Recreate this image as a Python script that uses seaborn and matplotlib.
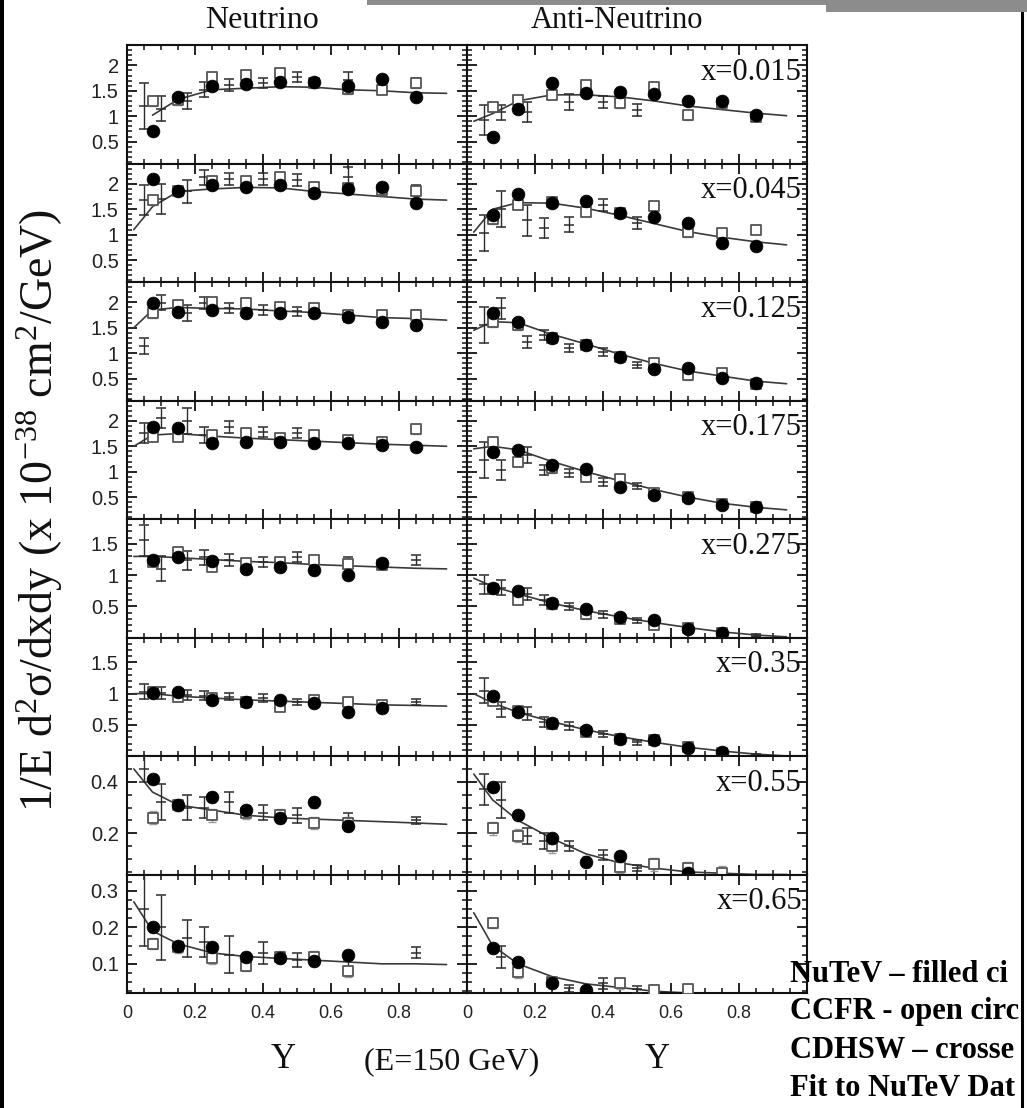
import numpy as np
import matplotlib
matplotlib.use("Agg")
import matplotlib.pyplot as plt
import seaborn as sns
from matplotlib.ticker import FixedLocator, MultipleLocator, FuncFormatter
from matplotlib.patches import Rectangle
from matplotlib.lines import Line2D

nan = np.nan

# ---------------------------------------------------------------- data
X_LABELS = ["x=0.015", "x=0.045", "x=0.125", "x=0.175",
            "x=0.275", "x=0.35", "x=0.55", "x=0.65"]

Y_BINS = [0.075, 0.15, 0.25, 0.35, 0.45, 0.55, 0.65, 0.75, 0.85]
Y_CDHSW = [0.05, 0.1, 0.175, 0.225, 0.3, 0.4, 0.5, 0.65, 0.85]
Y_FIT = [0.02, 0.075, 0.15, 0.25, 0.35, 0.45, 0.55, 0.65, 0.75, 0.85, 0.94]

# neutrino
NU_NUTEV = [
    [0.70, 1.37, 1.60, 1.63, 1.67, 1.67, 1.60, 1.73, 1.38],
    [2.10, 1.86, 1.98, 1.94, 1.98, 1.82, 1.90, 1.94, 1.63],
    [1.99, 1.81, 1.85, 1.79, 1.80, 1.80, 1.71, 1.61, 1.55],
    [1.88, 1.86, 1.56, 1.59, 1.59, 1.57, 1.57, 1.52, 1.48],
    [1.24, 1.29, 1.23, 1.10, 1.13, 1.08, 1.00, 1.19, nan],
    [1.01, 1.03, 0.90, 0.87, 0.89, 0.85, 0.71, 0.77, nan],
    [0.41, 0.31, 0.34, 0.29, 0.26, 0.32, 0.23, nan, nan],
    [0.200, 0.150, 0.145, 0.120, 0.115, 0.107, 0.125, nan, nan],
]
NU_CCFR = [
    [1.30, 1.32, 1.77, 1.81, 1.85, 1.65, 1.53, 1.52, 1.65],
    [1.68, 1.85, 2.05, 2.05, 2.13, 1.94, 1.92, 1.88, 1.85],
    [1.79, 1.95, 2.00, 1.99, 1.91, 1.89, 1.75, 1.75, 1.75],
    [1.69, 1.69, 1.72, 1.76, 1.66, 1.72, 1.62, 1.59, 1.84],
    [1.21, 1.37, 1.13, 1.19, 1.21, 1.24, 1.18, 1.17, nan],
    [1.03, 0.95, 0.93, 0.87, 0.79, 0.90, 0.87, 0.82, nan],
    [0.26, 0.31, 0.27, 0.28, 0.27, 0.24, 0.24, nan, nan],
    [0.155, 0.145, 0.115, 0.095, 0.120, 0.120, 0.080, nan, nan],
]
NU_CDHSW = [
    [1.20, 1.15, 1.30, 1.52, 1.61, 1.65, 1.77, 1.71, 1.65],
    [1.68, 1.70, 1.85, 2.13, 2.10, 2.10, 2.07, 2.13, 1.88],
    [1.14, 1.99, 1.79, 1.99, 1.89, 1.85, 1.82, 1.72, 1.72],
    [1.76, 2.05, 2.00, 1.72, 1.88, 1.78, 1.76, 1.60, nan],
    [1.56, 1.10, 1.24, 1.29, 1.24, 1.21, 1.29, 1.21, 1.24],
    [1.03, 1.01, 0.98, 0.97, 0.95, 0.93, 0.87, 0.87, 0.87],
    [0.45, 0.32, 0.30, 0.30, 0.32, 0.28, 0.27, 0.26, 0.25],
    [0.25, 0.20, 0.17, 0.16, 0.125, 0.13, 0.11, 0.11, 0.13],
]
NU_CDHSW_ERR = [
    [0.45, 0.25, 0.15, 0.15, 0.12, 0.10, 0.10, 0.15, 0.10],
    [0.30, 0.30, 0.22, 0.15, 0.12, 0.12, 0.12, 0.20, 0.10],
    [0.15, 0.15, 0.15, 0.12, 0.10, 0.10, 0.08, 0.10, 0.12],
    [0.20, 0.20, 0.25, 0.15, 0.12, 0.10, 0.10, 0.08, 0.00],
    [0.25, 0.20, 0.15, 0.12, 0.10, 0.08, 0.08, 0.08, 0.08],
    [0.12, 0.10, 0.08, 0.07, 0.06, 0.06, 0.05, 0.05, 0.05],
    [0.05, 0.07, 0.05, 0.04, 0.04, 0.03, 0.03, 0.02, 0.015],
    [0.10, 0.09, 0.05, 0.04, 0.05, 0.03, 0.02, 0.02, 0.015],
]
NU_FIT = [
    [nan, 1.02, 1.33, 1.52, 1.55, 1.58, 1.57, 1.52, 1.50, 1.46, 1.45],
    [1.10, 1.55, 1.85, 1.90, 1.93, 1.92, 1.85, 1.80, 1.75, 1.70, 1.68],
    [1.50, 1.85, 1.90, 1.88, 1.87, 1.83, 1.80, 1.75, 1.70, 1.68, 1.65],
    [1.50, 1.72, 1.75, 1.70, 1.66, 1.63, 1.60, 1.57, 1.54, 1.52, 1.50],
    [1.30, 1.30, 1.28, 1.25, 1.22, 1.20, 1.17, 1.15, 1.13, 1.11, 1.10],
    [1.00, 1.00, 0.96, 0.93, 0.90, 0.88, 0.86, 0.84, 0.82, 0.81, 0.80],
    [0.45, 0.36, 0.31, 0.29, 0.27, 0.26, 0.255, 0.25, 0.245, 0.24, 0.235],
    [0.27, 0.19, 0.155, 0.13, 0.12, 0.115, 0.11, 0.105, 0.10, 0.10, 0.098],
]

# anti-neutrino
NUBAR_NUTEV = [
    [0.59, 1.14, 1.65, 1.46, 1.48, 1.43, 1.30, 1.30, 1.02],
    [1.39, 1.80, 1.62, 1.66, 1.42, 1.35, 1.23, 0.84, 0.78],
    [1.79, 1.61, 1.30, 1.16, 0.93, 0.69, 0.71, 0.52, 0.42],
    [1.39, 1.43, 1.13, 1.05, 0.70, 0.54, 0.49, 0.35, 0.31],
    [0.80, 0.75, 0.55, 0.45, 0.33, 0.28, 0.13, 0.07, nan],
    [0.97, 0.70, 0.53, 0.42, 0.28, 0.25, 0.13, 0.06, nan],
    [0.38, 0.27, 0.18, 0.09, 0.11, nan, 0.045, nan, nan],
    [0.143, 0.105, 0.047, 0.028, nan, nan, nan, nan, nan],
]
NUBAR_CCFR = [
    [1.19, 1.32, 1.42, 1.61, 1.26, 1.58, 1.02, 1.26, 0.99],
    [1.30, 1.59, 1.64, 1.45, 1.43, 1.57, 1.05, 1.03, 1.10],
    [1.61, 1.55, 1.30, 1.16, 0.93, 0.81, 0.57, 0.61, 0.39],
    [1.59, 1.20, 1.07, 0.90, 0.85, 0.58, 0.50, 0.36, 0.30],
    [0.78, 0.60, 0.53, 0.37, 0.30, 0.20, 0.15, 0.07, nan],
    [0.88, 0.72, 0.52, 0.38, 0.27, 0.25, 0.15, 0.05, nan],
    [0.22, 0.19, 0.15, nan, 0.07, 0.08, 0.065, 0.047, nan],
    [0.212, 0.077, 0.050, nan, 0.047, 0.028, 0.030, nan, nan],
]
NUBAR_CDHSW = [
    [0.93, 1.08, 1.08, nan, 1.28, 1.28, 1.12, nan, nan],
    [1.03, 1.50, 1.28, 1.13, 1.20, 1.59, 1.23, 1.05, nan],
    [1.55, 1.88, 1.22, 1.36, 1.10, 1.03, 0.77, nan, nan],
    [1.23, 1.03, 1.33, 1.03, 0.98, 0.80, 0.72, nan, nan],
    [0.85, 0.80, 0.70, 0.60, 0.50, 0.37, 0.28, 0.10, 0.03],
    [1.05, 0.75, 0.68, 0.55, 0.48, 0.35, 0.22, 0.10, 0.02],
    [0.37, 0.33, 0.19, 0.17, 0.15, 0.115, 0.065, nan, nan],
    [nan, 0.118, nan, nan, 0.033, 0.047, 0.030, nan, nan],
]
NUBAR_CDHSW_ERR = [
    [0.30, 0.15, 0.20, 0.00, 0.15, 0.12, 0.12, 0.00, 0.00],
    [0.35, 0.35, 0.30, 0.20, 0.15, 0.12, 0.12, 0.10, 0.00],
    [0.35, 0.20, 0.12, 0.10, 0.08, 0.08, 0.06, 0.00, 0.00],
    [0.35, 0.20, 0.15, 0.10, 0.08, 0.08, 0.06, 0.00, 0.00],
    [0.15, 0.12, 0.10, 0.08, 0.06, 0.05, 0.04, 0.03, 0.02],
    [0.20, 0.12, 0.10, 0.08, 0.06, 0.05, 0.04, 0.03, 0.02],
    [0.06, 0.07, 0.03, 0.03, 0.02, 0.02, 0.01, 0.00, 0.00],
    [0.00, 0.03, 0.00, 0.00, 0.01, 0.015, 0.01, 0.00, 0.00],
]
NUBAR_FIT = [
    [0.90, 1.05, 1.30, 1.42, 1.42, 1.38, 1.30, 1.20, 1.13, 1.06, 1.01],
    [1.05, 1.50, 1.63, 1.62, 1.52, 1.38, 1.22, 1.06, 0.95, 0.86, 0.80],
    [1.45, 1.62, 1.60, 1.37, 1.18, 0.98, 0.80, 0.65, 0.55, 0.45, 0.40],
    [1.45, 1.50, 1.43, 1.20, 1.00, 0.82, 0.65, 0.50, 0.38, 0.30, 0.25],
    [0.95, 0.82, 0.70, 0.55, 0.43, 0.33, 0.24, 0.16, 0.09, 0.04, 0.01],
    [1.00, 0.85, 0.70, 0.55, 0.42, 0.31, 0.22, 0.14, 0.08, 0.03, 0.00],
    [0.43, 0.33, 0.25, 0.18, 0.12, 0.085, 0.065, 0.05, 0.045, 0.04, 0.04],
    [0.24, 0.15, 0.10, 0.065, 0.045, 0.035, 0.025, 0.02, nan, nan, nan],
]

# typical statistical errors of the NuTeV and CCFR points, per x bin
ERR_NUTEV = [0.07, 0.07, 0.07, 0.07, 0.06, 0.05, 0.02, 0.012]
ERR_CCFR = [0.09, 0.09, 0.09, 0.09, 0.07, 0.06, 0.025, 0.015]

X_TICKS = [0, 0.2, 0.4, 0.6, 0.8]
Y_LIMITS = [(0.07, 2.4)] * 4 + [(0.0, 1.9)] * 2 + [(0.04, 0.5), (0.02, 0.345)]
Y_TICKS = [[0.5, 1, 1.5, 2]] * 4 + [[0.5, 1, 1.5]] * 2 + [[0.2, 0.4], [0.1, 0.2, 0.3]]
Y_MINOR = [0.1] * 6 + [0.05, 0.025]

# legend block, cut by the slide border on the right
LEGEND_LINES = ["NuTeV \u2013 filled ci", "CCFR - open circ",
                "CDHSW \u2013 crosse", "Fit to NuTeV Dat"]

# ---------------------------------------------------------------- style
sns.set_theme(style="ticks")
plt.rcParams["font.family"] = ["Liberation Sans", "DejaVu Sans"]
plt.rcParams["mathtext.fontset"] = "custom"
plt.rcParams["mathtext.rm"] = "Liberation Serif"
plt.rcParams["mathtext.it"] = "Liberation Serif:italic"
plt.rcParams["axes.linewidth"] = 1.5
plt.rcParams["axes.edgecolor"] = "#111111"

SERIF = ["Liberation Serif", "DejaVu Serif"]
FIT_COLOR = "#3a3a3a"
W, H = 1027, 1108

fig = plt.figure(figsize=(W / 100, H / 100), dpi=100)
fig.patch.set_facecolor("white")

COL_LEFT = [127, 467]
COL_W = 340
ROW_TOP = 45
ROW_H = 118.5


def fmt(v, _):
    return f"{v:g}"


columns = [
    (NU_NUTEV, NU_CCFR, NU_CDHSW, NU_CDHSW_ERR, NU_FIT),
    (NUBAR_NUTEV, NUBAR_CCFR, NUBAR_CDHSW, NUBAR_CDHSW_ERR, NUBAR_FIT),
]

for c, (nutev, ccfr, cdhsw, cdhsw_err, fit) in enumerate(columns):
    for r in range(8):
        top = ROW_TOP + r * ROW_H
        ax = fig.add_axes([COL_LEFT[c] / W, 1 - (top + ROW_H) / H, COL_W / W, ROW_H / H])
        ax.set_facecolor("white")

        # fit curve
        fy = np.array(fit[r], dtype=float)
        fx = np.array(Y_FIT)
        m = ~np.isnan(fy)
        sns.lineplot(x=fx[m], y=fy[m], ax=ax, color=FIT_COLOR, lw=1.2,
                     estimator=None, sort=False, zorder=2)

        # CDHSW crosses
        cy = np.array(cdhsw[r], dtype=float)
        ce = np.array(cdhsw_err[r], dtype=float)
        cx = np.array(Y_CDHSW)
        m = ~np.isnan(cy)
        ax.errorbar(cx[m], cy[m], yerr=ce[m], fmt="_", color="#2b2b2b", ms=7, mew=1.1,
                    elinewidth=1.0, capsize=3.5, capthick=1.0, zorder=3)

        bx = np.array(Y_BINS)
        # CCFR open squares
        qy = np.array(ccfr[r], dtype=float)
        m = ~np.isnan(qy)
        ax.errorbar(bx[m], qy[m], yerr=ERR_CCFR[r], fmt="none", ecolor="#9a9a9a",
                    elinewidth=1.0, capsize=3, capthick=1.0, zorder=3.5)
        sns.scatterplot(x=bx[m], y=qy[m], ax=ax, marker="s", s=60, facecolor="white",
                        edgecolor="#555555", linewidth=1.3, zorder=4, legend=False)

        # NuTeV filled circles
        ny = np.array(nutev[r], dtype=float)
        m = ~np.isnan(ny)
        ax.errorbar(bx[m], ny[m], yerr=ERR_NUTEV[r], fmt="none", ecolor="#8a8a8a",
                    elinewidth=1.0, capsize=3, capthick=1.0, ls=":", zorder=4.5)
        sns.scatterplot(x=bx[m], y=ny[m], ax=ax, marker="o", s=85, color="black",
                        edgecolor="black", linewidth=0.5, zorder=5, legend=False)

        # axes
        ax.set_xlim(0, 1.0)
        ax.set_ylim(*Y_LIMITS[r])
        ax.xaxis.set_major_locator(FixedLocator(X_TICKS))
        ax.xaxis.set_minor_locator(MultipleLocator(0.05))
        ax.yaxis.set_major_locator(FixedLocator(Y_TICKS[r]))
        ax.yaxis.set_minor_locator(MultipleLocator(Y_MINOR[r]))
        ax.xaxis.set_major_formatter(FuncFormatter(fmt))
        ax.yaxis.set_major_formatter(FuncFormatter(fmt))
        ax.tick_params(which="both", direction="in", top=True, right=True,
                       bottom=True, left=True, color="#111111")
        ax.tick_params(which="major", length=7, width=1.3)
        ax.tick_params(which="minor", length=3.5, width=1.1)
        ax.tick_params(axis="y", labelsize=14.5, pad=6, labelcolor="#222222",
                       labelleft=(c == 0))
        ax.tick_params(axis="x", labelsize=13, pad=9, labelcolor="#222222",
                       labelbottom=(r == 7))
        ax.set_xlabel("")
        ax.set_ylabel("")
        for sp in ax.spines.values():
            sp.set_visible(True)
            sp.set_linewidth(1.5)

        if c == 1:
            ax.text(0.985, 0.77, X_LABELS[r], transform=ax.transAxes, ha="right",
                    va="center", fontsize=22, family=SERIF, color="#111111", zorder=6)

# ---------------------------------------------------------------- figure text
fig.text(262 / W, 1 - 21 / H, "Neutrino", ha="center", va="center",
         fontsize=23, family=SERIF, color="#111111")
fig.text(617 / W, 1 - 21 / H, "Anti-Neutrino", ha="center", va="center",
         fontsize=22, family=SERIF, color="#111111")

fig.text(40 / W, 1 - 510 / H,
         r"1/E d$^\mathregular{2}$σ/dxdy (x 10$^\mathregular{-38}$ cm$^\mathregular{2}$/GeV)",
         rotation=90, ha="center", va="center", fontsize=33, family=SERIF, color="#111111")

fig.text(283 / W, 1 - 1060 / H, "Y", ha="center", va="center", fontsize=25,
         family=SERIF, color="#111111")
fig.text(657 / W, 1 - 1060 / H, "Y", ha="center", va="center", fontsize=25,
         family=SERIF, color="#111111")
fig.text(452 / W, 1 - 1062 / H, "(E=150 GeV)", ha="center", va="center", fontsize=23,
         family=SERIF, color="#111111")

for i, line in enumerate(LEGEND_LINES):
    fig.text(790 / W, 1 - (974 + 38 * i) / H, line, ha="left", va="center",
             fontsize=22, fontweight="bold", family=SERIF, color="black", zorder=10)

# slide frame pieces
fig.add_artist(Rectangle((0, 0), 4 / W, 1, transform=fig.transFigure,
                         facecolor="black", edgecolor="none", zorder=11))
fig.add_artist(Line2D([1022 / W, 1022 / W], [0, 1 - 12 / H], transform=fig.transFigure,
                      color="black", lw=2.2, zorder=12))
fig.add_artist(Rectangle((367 / W, 1 - 5 / H), (826 - 367) / W, 5 / H,
                         transform=fig.transFigure, facecolor="#8c8c8c",
                         edgecolor="none", zorder=12))
fig.add_artist(Rectangle((826 / W, 1 - 12 / H), (W - 826) / W, 12 / H,
                         transform=fig.transFigure, facecolor="#8c8c8c",
                         edgecolor="none", zorder=12))

fig.savefig("out.png", dpi=100, facecolor="white")
